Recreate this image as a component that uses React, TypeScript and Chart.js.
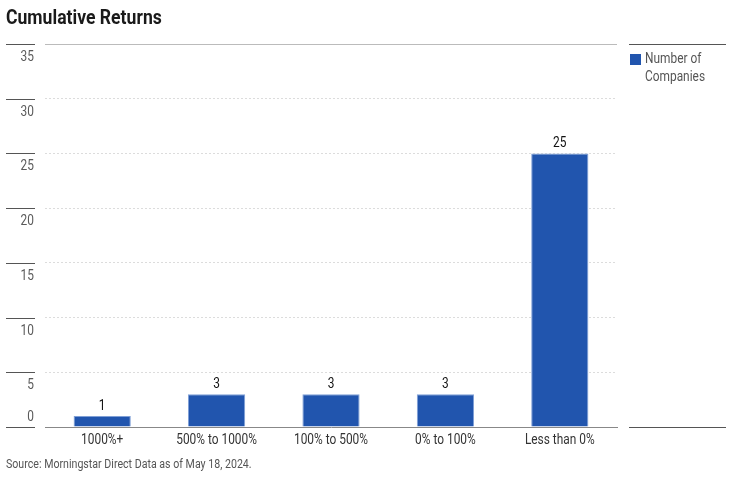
import React, { useEffect, useRef } from "react";
import { Chart, registerables } from "chart.js";

Chart.register(...registerables);

const categories = ["1000%+", "500% to 1000%", "100% to 500%", "0% to 100%", "Less than 0%"];
const companies = [1, 3, 3, 3, 25];
const yTicks = [0, 5, 10, 15, 20, 25, 30, 35];
const seriesName = ["Number of", "Companies"];
const titleText = "Cumulative Returns";
const sourceText = "Source: Morningstar Direct Data as of May 18, 2024.";

const FONT = "Roboto, sans-serif";
const BLUE = "#2155ae";

function condText(ctx: any, text: string, x: number, y: number, align: "left" | "right" | "center", sx = 0.85) {
  ctx.save();
  ctx.translate(x, y);
  ctx.scale(sx, 1);
  ctx.textAlign = align;
  ctx.fillText(text, 0, 0);
  ctx.restore();
}

const overlay = {
  id: "overlay",
  afterDraw(chart: any) {
    const ctx = chart.ctx;
    const y = chart.scales.y;
    const x = chart.scales.x;
    const area = chart.chartArea;
    ctx.save();
    // title
    ctx.fillStyle = "#1a1a1a";
    ctx.font = `bold 20px ${FONT}`;
    ctx.textBaseline = "alphabetic";
    condText(ctx, titleText, 6, 24, "left", 0.88);
    // top solid line of plot
    const topY = Math.round(y.getPixelForValue(35)) + 0.5;
    const botY = Math.round(y.getPixelForValue(0)) + 0.5;
    ctx.strokeStyle = "#bbb";
    ctx.lineWidth = 1;
    ctx.beginPath();
    ctx.moveTo(area.left, topY);
    ctx.lineTo(area.right, topY);
    ctx.stroke();
    // y tick lines and labels
    ctx.strokeStyle = "#555";
    ctx.font = `14px ${FONT}`;
    ctx.fillStyle = "#5a5a5a";
    ctx.textBaseline = "middle";
    yTicks.forEach((t) => {
      const py = Math.round(y.getPixelForValue(t)) + 0.5;
      ctx.beginPath();
      ctx.moveTo(6, py);
      ctx.lineTo(35, py);
      ctx.stroke();
      const ly = t === 0 ? py - 10.5 : py + 13;
      condText(ctx, String(t), 34, ly, "right");
    });
    // right legend lines
    ctx.beginPath();
    ctx.moveTo(629, topY);
    ctx.lineTo(726, topY);
    ctx.moveTo(629, botY);
    ctx.lineTo(726, botY);
    ctx.stroke();
    // legend
    ctx.fillStyle = BLUE;
    ctx.fillRect(630, 54, 11, 11);
    ctx.fillStyle = "#555";
    ctx.font = `14px ${FONT}`;
    condText(ctx, seriesName[0], 645, 59.5, "left");
    condText(ctx, seriesName[1], 645, 77.5, "left");
    // x labels
    ctx.fillStyle = "#333";
    categories.forEach((c, i) => {
      condText(ctx, c, x.getPixelForValue(i), 440, "center");
    });
    // data labels
    const meta = chart.getDatasetMeta(0);
    ctx.fillStyle = "#111";
    ctx.textBaseline = "alphabetic";
    meta.data.forEach((bar: any, i: number) => {
      condText(ctx, String(companies[i]), bar.x, bar.y - 6, "center");
    });
    // source
    ctx.fillStyle = "#555";
    ctx.textBaseline = "middle";
    ctx.font = `12.5px ${FONT}`;
    condText(ctx, sourceText, 6, 465, "left");
    ctx.restore();
  },
};

export default function App() {
  const ref = useRef<HTMLCanvasElement>(null);
  useEffect(() => {
    document.body.style.margin = "0";
    const chart = new Chart(ref.current as HTMLCanvasElement, {
      type: "bar",
      data: {
        labels: categories,
        datasets: [
          {
            label: seriesName.join(" "),
            data: companies,
            backgroundColor: BLUE,
            borderColor: "#7f9fd6",
            borderWidth: 1,
            categoryPercentage: 0.5,
            barPercentage: 1,
          },
        ],
      },
      options: {
        responsive: false,
        animation: false,
        layout: { padding: { left: 45, right: 116, top: 44, bottom: 50 } },
        plugins: { legend: { display: false }, tooltip: { enabled: false }, title: { display: false } },
        scales: {
          x: {
            grid: { display: false, drawTicks: false },
            ticks: { display: false },
            border: { display: true, color: "#888", width: 1 },
          },
          y: {
            min: 0,
            max: 35,
            ticks: { display: false, stepSize: 5 },
            grid: {
              drawTicks: false,
              color: (c: any) =>
                c.tick && (c.tick.value === 35 || c.tick.value === 0) ? "rgba(0,0,0,0)" : "#dcdcdc",
              lineWidth: 1,
            },
            border: { display: false, dash: [2, 2] },
          },
        },
      },
      plugins: [overlay],
    });
    return () => chart.destroy();
  }, []);
  return (
    <div style={{ position: "absolute", left: 0, top: 0, width: 733, height: 477 }}>
      <canvas ref={ref} width={733} height={477} />
    </div>
  );
}
